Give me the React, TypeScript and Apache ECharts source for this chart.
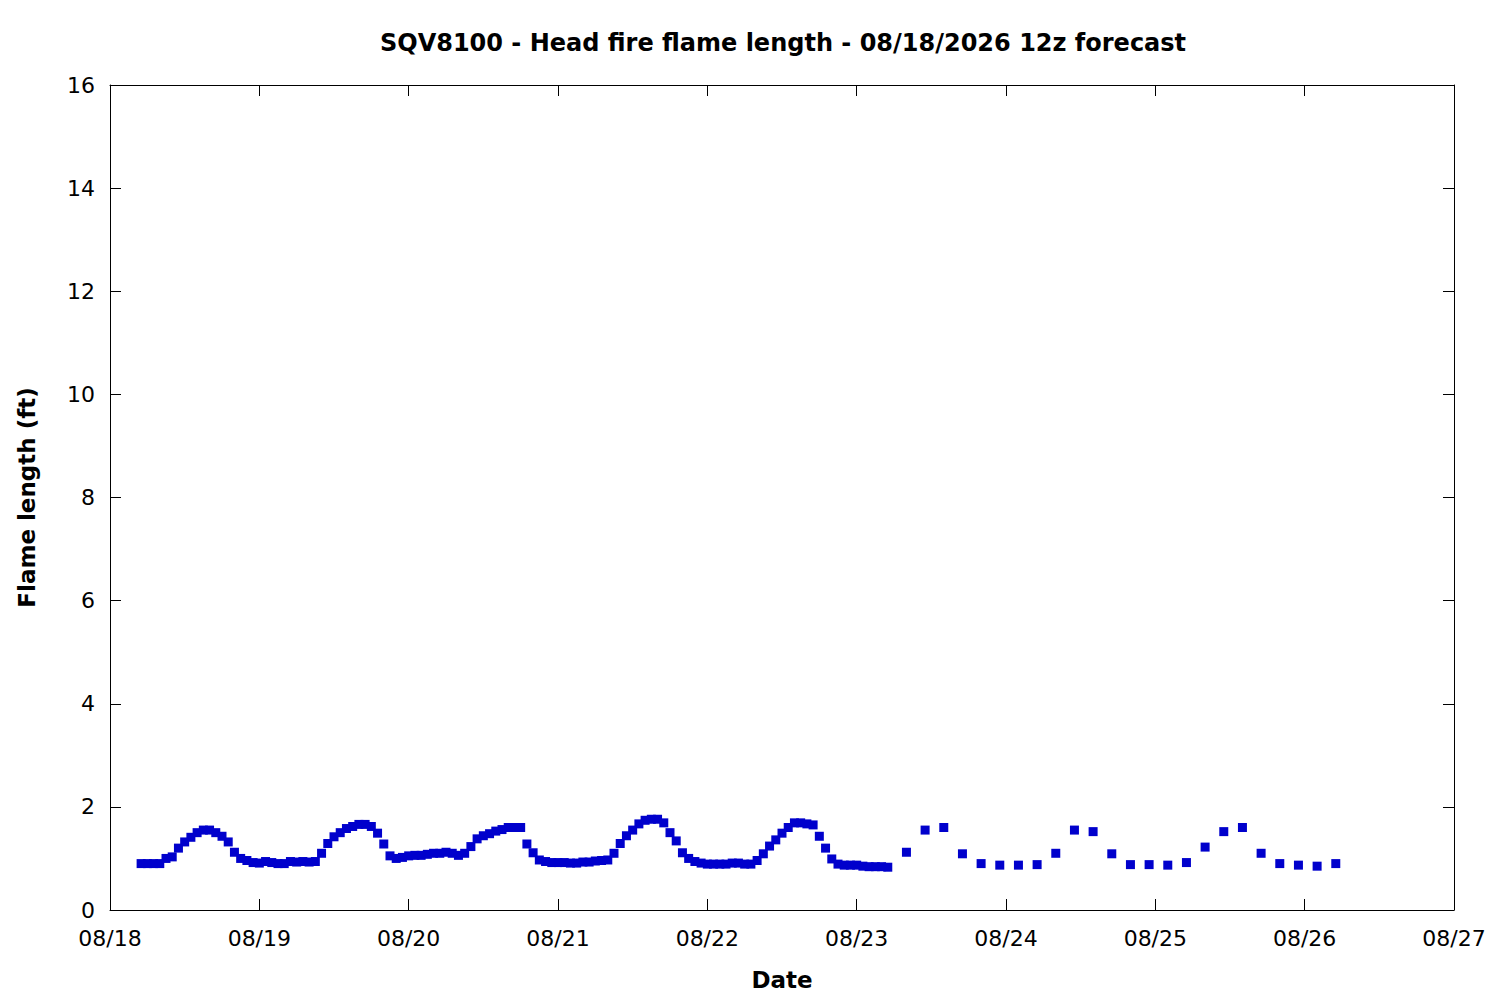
import React, { useEffect, useRef } from "react";
import * as echarts from "echarts";

const titleText = "SQV8100 - Head fire flame length - 08/18/2026 12z forecast";
const xAxisName = "Date";
const yAxisName = "Flame length (ft)";

// Hourly forecast (local time) starting 08/18 05:00
const hourlyStart = Date.UTC(2026, 7, 18, 5);
const hourlyValues = [
  0.9, 0.9, 0.9, 0.9, 1.0, 1.03, 1.2, 1.32, 1.41, 1.5,
  1.55, 1.55, 1.5, 1.43, 1.32, 1.12, 1.0, 0.96, 0.92, 0.91,
  0.94, 0.92, 0.9, 0.9, 0.94, 0.93, 0.94, 0.93, 0.94, 1.1,
  1.29, 1.42, 1.5, 1.58, 1.62, 1.66, 1.66, 1.62, 1.49, 1.28,
  1.05, 1.0, 1.02, 1.05, 1.06, 1.06, 1.08, 1.1, 1.1, 1.12,
  1.1, 1.06, 1.1, 1.23, 1.38, 1.44, 1.48, 1.53, 1.56, 1.6,
  1.6, 1.6, 1.28, 1.11, 0.97, 0.94, 0.92, 0.92, 0.92, 0.91,
  0.91, 0.93, 0.93, 0.95, 0.96, 0.97, 1.1, 1.29, 1.44, 1.55,
  1.67, 1.74, 1.76, 1.76, 1.69, 1.5, 1.34, 1.11, 1.0, 0.94,
  0.91, 0.89, 0.89, 0.89, 0.89, 0.91, 0.91, 0.89, 0.89, 0.96,
  1.09, 1.24, 1.36, 1.49, 1.6, 1.69, 1.69, 1.67, 1.65, 1.43,
  1.2, 0.99, 0.89, 0.87, 0.87, 0.87, 0.85, 0.84, 0.84, 0.84,
  0.83,
];

// 3-hourly forecast starting 08/23 08:00
const threeHourlyStart = Date.UTC(2026, 7, 23, 8);
const threeHourlyValues = [
  1.12, 1.55, 1.6, 1.09, 0.9, 0.87, 0.87, 0.88,
  1.1, 1.55, 1.52, 1.09, 0.88, 0.88, 0.87, 0.92,
  1.22, 1.52, 1.6, 1.1, 0.9, 0.87, 0.85, 0.9,
];

const xMin = Date.UTC(2026, 7, 18);
const xMax = Date.UTC(2026, 7, 27);
const DAY = 86400000;
const HOUR = 3600000;

const yMin = 0;
const yMax = 16;
const yStep = 2;

const FONT = "'DejaVu Sans', sans-serif";

function fmtDate(v: number): string {
  const d = new Date(v);
  const mm = String(d.getUTCMonth() + 1).padStart(2, "0");
  const dd = String(d.getUTCDate()).padStart(2, "0");
  return mm + "/" + dd;
}

export default function App() {
  const ref = useRef<HTMLDivElement>(null);

  useEffect(() => {
    if (!ref.current) return;
    const chart = echarts.init(ref.current, undefined, { renderer: "svg" });

    const data: [number, number][] = [];
    hourlyValues.forEach((v, i) => data.push([hourlyStart + i * HOUR, v]));
    threeHourlyValues.forEach((v, i) => data.push([threeHourlyStart + i * 3 * HOUR, v]));

    const lineStyle = { color: "#000", width: 1 };
    const tick = { show: true, inside: true, length: 11, lineStyle };

    chart.setOption({
      animation: false,
      backgroundColor: "#fff",
      graphic: [
        {
          type: "text",
          x: 783,
          y: 43,
          style: {
            text: titleText,
            textAlign: "center",
            textVerticalAlign: "middle",
            fontFamily: FONT,
            fontWeight: "bold",
            fontSize: 24,
            fill: "#000",
          },
        },
      ],
      grid: {
        left: 110,
        top: 85,
        right: 46,
        bottom: 90,
        containLabel: false,
        outerBoundsMode: "none",
      },
      xAxis: [
        {
          type: "value",
          min: xMin,
          max: xMax,
          interval: DAY,
          name: xAxisName,
          nameLocation: "middle",
          nameGap: 58,
          nameTextStyle: { fontFamily: FONT, fontWeight: "bold", fontSize: 23, color: "#000" },
          axisLine: { show: true, onZero: false, lineStyle },
          axisTick: tick,
          axisLabel: {
            show: true,
            margin: 17,
            formatter: (v: number) => fmtDate(v),
            fontFamily: FONT,
            fontSize: 22,
            color: "#000",
            showMinLabel: true,
            showMaxLabel: true,
          },
          splitLine: { show: false },
        },
        {
          type: "value",
          position: "top",
          min: xMin,
          max: xMax,
          interval: DAY,
          axisLine: { show: true, onZero: false, lineStyle },
          axisTick: tick,
          axisLabel: { show: false },
          splitLine: { show: false },
        },
      ],
      yAxis: [
        {
          type: "value",
          min: yMin,
          max: yMax,
          interval: yStep,
          name: yAxisName,
          nameLocation: "middle",
          nameGap: 72,
          nameRotate: 90,
          nameTextStyle: { fontFamily: FONT, fontWeight: "bold", fontSize: 23, color: "#000" },
          axisLine: { show: true, onZero: false, lineStyle },
          axisTick: tick,
          axisLabel: { show: true, margin: 15, fontFamily: FONT, fontSize: 22, color: "#000" },
          splitLine: { show: false },
        },
        {
          type: "value",
          position: "right",
          min: yMin,
          max: yMax,
          interval: yStep,
          axisLine: { show: true, onZero: false, lineStyle },
          axisTick: tick,
          axisLabel: { show: false },
          splitLine: { show: false },
        },
      ],
      series: [
        {
          type: "scatter",
          xAxisIndex: 0,
          yAxisIndex: 0,
          symbol: "rect",
          symbolSize: 9,
          itemStyle: { color: "#0000cc", opacity: 1 },
          data,
        },
      ],
    });

    return () => chart.dispose();
  }, []);

  return (
    <div
      ref={ref}
      style={{ position: "fixed", left: 0, top: 0, width: 1500, height: 1000, background: "#fff" }}
    />
  );
}
